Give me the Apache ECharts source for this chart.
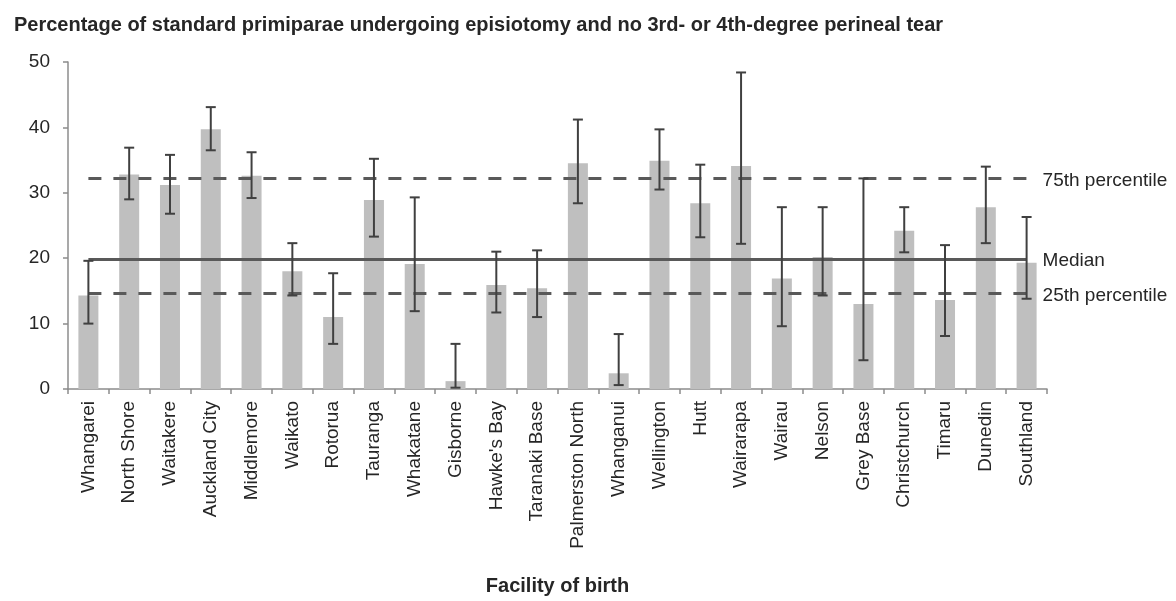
<!DOCTYPE html>
<html>
<head>
<meta charset="utf-8">
<script src="https://cdn.jsdelivr.net/npm/echarts@6/dist/echarts.min.js"></script>
<style>
html,body{margin:0;padding:0;background:#fff;}
#chart{width:1176px;height:601px;}
</style>
</head>
<body>
<div id="chart"></div>
<script>
const titleText = 'Percentage of standard primiparae undergoing episiotomy and no 3rd- or 4th-degree perineal tear';
const axisName = 'Facility of birth';
const categories = ['Whangarei','North Shore','Waitakere','Auckland City','Middlemore','Waikato','Rotorua','Tauranga','Whakatane','Gisborne','Hawke\'s Bay','Taranaki Base','Palmerston North','Whanganui','Wellington','Hutt','Wairarapa','Wairau','Nelson','Grey Base','Christchurch','Timaru','Dunedin','Southland'];
const values = [14.3, 32.8, 31.2, 39.7, 32.6, 18.0, 11.0, 28.9, 19.1, 1.2, 15.9, 15.4, 34.5, 2.4, 34.9, 28.4, 34.1, 16.9, 20.2, 13.0, 24.2, 13.6, 27.8, 19.3];
const lower = [10.0, 29.0, 26.8, 36.5, 29.2, 14.3, 6.9, 23.3, 11.9, 0.2, 11.7, 11.0, 28.4, 0.6, 30.5, 23.2, 22.2, 9.6, 14.3, 4.4, 20.9, 8.1, 22.3, 13.8];
const upper = [19.6, 36.9, 35.8, 43.1, 36.2, 22.3, 17.7, 35.2, 29.3, 6.9, 21.0, 21.2, 41.2, 8.4, 39.7, 34.3, 48.4, 27.8, 27.8, 32.2, 27.8, 22.0, 34.0, 26.3];
const refValues = [32.2, 19.9, 14.6];
const refLabels = ['75th percentile', 'Median', '25th percentile'];
const refDashed = [true, false, true];

const FONT = '"Liberation Sans", Arial, sans-serif';
const chart = echarts.init(document.getElementById('chart'), null, {renderer: 'canvas'});

const last = categories.length - 1;
const markData = refValues.map((v, i) => [
  {
    name: refLabels[i],
    coord: [0, v],
    lineStyle: {color: '#595959', width: 3, type: refDashed[i] ? [13, 12] : 'solid'}
  },
  {coord: [last, v]}
]);

const option = {
  animation: false,
  title: {
    text: titleText,
    left: 9, top: 10,
    textStyle: {fontFamily: FONT, fontSize: 20, fontWeight: 'bold', color: '#262626'}
  },
  grid: {left: 68, right: 129, top: 62, bottom: 204, containLabel: false},
  xAxis: {
    type: 'category',
    data: categories,
    name: axisName,
    nameLocation: 'middle',
    nameGap: 187,
    nameTextStyle: {fontFamily: FONT, fontSize: 20, fontWeight: 'bold', color: '#262626'},
    axisLine: {lineStyle: {color: '#8c8c8c', width: 1.5}},
    axisTick: {show: true, length: 5, lineStyle: {color: '#8c8c8c', width: 1.5}},
    axisLabel: {rotate: 90, margin: 12, interval: 0, fontFamily: FONT, fontSize: 19, color: '#262626'}
  },
  yAxis: {
    type: 'value',
    min: 0, max: 50, interval: 10,
    splitLine: {show: false},
    axisLine: {show: true, lineStyle: {color: '#8c8c8c', width: 1.5}},
    axisTick: {show: true, length: 5, lineStyle: {color: '#8c8c8c', width: 1.5}},
    axisLabel: {margin: 18, fontFamily: FONT, fontSize: 19, color: '#262626'}
  },
  series: [
    {
      type: 'bar',
      data: values,
      barWidth: 20,
      itemStyle: {color: '#bfbfbf'},
      z: 2,
      markLine: {
        silent: true,
        symbol: ['none', 'none'],
        z: 3,
        label: {
          show: true, position: 'end', distance: 16, offset: [0, 2],
          formatter: p => p.name,
          fontFamily: FONT, fontSize: 19, color: '#262626'
        },
        data: markData
      }
    },
    {
      type: 'custom',
      z: 5,
      data: categories.map((c, i) => [i, lower[i], upper[i]]),
      encode: {x: 0, y: [1, 2]},
      renderItem: function (params, api) {
        const x = api.value(0);
        const lo = api.coord([x, api.value(1)]);
        const hi = api.coord([x, api.value(2)]);
        const hw = 5;
        const style = {stroke: '#404040', lineWidth: 2, fill: null};
        return {
          type: 'group',
          children: [
            {type: 'line', shape: {x1: lo[0], y1: lo[1], x2: hi[0], y2: hi[1]}, style: style},
            {type: 'line', shape: {x1: hi[0] - hw, y1: hi[1], x2: hi[0] + hw, y2: hi[1]}, style: style},
            {type: 'line', shape: {x1: lo[0] - hw, y1: lo[1], x2: lo[0] + hw, y2: lo[1]}, style: style}
          ]
        };
      }
    }
  ]
};
chart.setOption(option);
</script>
</body>
</html>
